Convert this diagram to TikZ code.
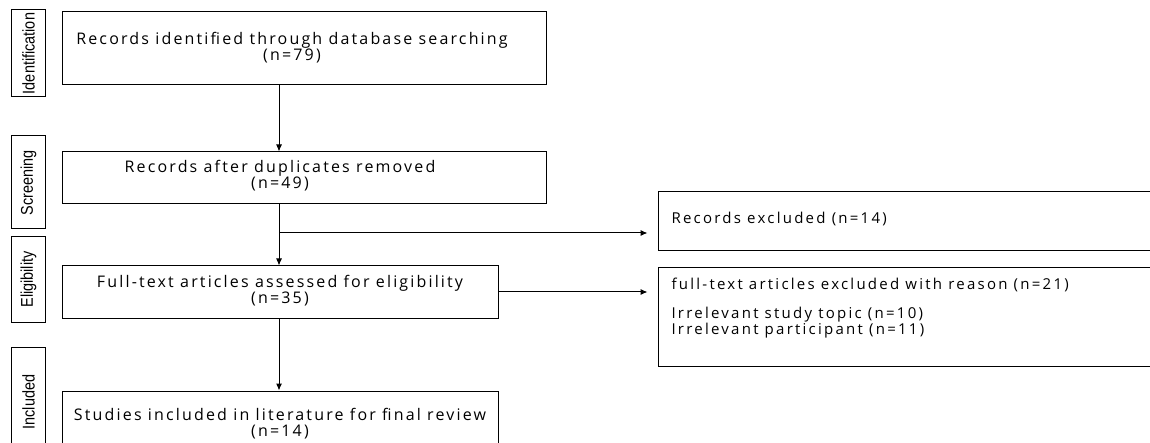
\documentclass[tikz,border=0pt]{standalone}
\usepackage{fontspec}
\setmainfont{Open Sans}[LetterSpace=14]
\newfontfamily\stagefont{Liberation Sans}[FakeStretch=0.85]
\usetikzlibrary{arrows.meta}
\tikzset{
    flow-box/.style = {draw, line width=1pt, rectangle, inner sep=0pt},
    flow-text/.style = {align=center, font=\fontsize{16}{16}\selectfont\addfontfeatures{LetterSpace=13.5}},
    side-text/.style = {align=left, anchor=west, font=\fontsize{15}{14.5}\selectfont\addfontfeatures{LetterSpace=15}},
    stage-box/.style = {draw, line width=1pt, rectangle, rotate=90, minimum height=34pt, inner sep=0pt, font=\stagefont\fontsize{17}{17}\selectfont},
    flow-arrow/.style = {line width=1pt, -{Latex[length=7pt,width=6pt]}},
}

\begin{document}
\begin{tikzpicture}[x=1pt,y=-1pt]
\clip (0,0) rectangle (1150,443);

\node[stage-box, minimum width=87pt] (ident-stage) at (28.5,53.5) {Identification};
\node[stage-box, minimum width=93pt] (screen-stage) at (28.5,182.5) {Screening};
\node[stage-box, minimum width=85pt] (elig-stage) at (28.5,279.5) {Eligibility};
\node[stage-box, minimum width=110pt] (incl-stage) at (28.5,402) {Included};

\node[flow-box, minimum width=484pt, minimum height=73pt] (records) at (304,48.5) {};
\node[flow-box, minimum width=484pt, minimum height=52pt] (screened) at (304,178) {};
\node[flow-box, minimum width=436pt, minimum height=52pt] (assessed) at (280,292) {};
\node[flow-box, minimum width=436pt, minimum height=70pt] (included) at (280,426) {};
\node[flow-box, minimum width=500pt, minimum height=59pt] (excluded) at (908,221.5) {};
\node[flow-box, minimum width=500pt, minimum height=98pt] (reasons) at (908,317) {};

\node[flow-text] (records-text) at (292,48) {Records identified through database searching\\(n=79)};
\node[flow-text] (screened-text) at (280,175.5) {Records after duplicates removed\\(n=49)};
\node[flow-text] (assessed-text) at (280,290.5) {Full-text articles assessed for eligibility\\(n=35)};
\node[flow-text] (included-text) at (280,424) {Studies included in literature for final review\\(n=14)};
\node[side-text] (excluded-text) at (668,219) {Records excluded (n=14)};
\node[side-text] (reasons-text) at (668,308) {full-text articles excluded with reason (n=21)\\[15pt]Irrelevant study topic (n=10)\\Irrelevant participant (n=11)};

\coordinate (spine) at (279,0);
\coordinate (split) at (279,233);
\draw[flow-arrow] (records.south -| spine) -- (screened.north -| spine);
\draw[flow-arrow] (screened.south -| spine) -- (assessed.north -| spine);
\draw[flow-arrow, shorten >=10pt] (split) -- (split -| excluded.west);
\draw[flow-arrow, shorten >=10pt] (assessed.east) -- (assessed.east -| reasons.west);
\draw[flow-arrow] (assessed.south -| spine) -- (included.north -| spine);
\end{tikzpicture}
\end{document}
